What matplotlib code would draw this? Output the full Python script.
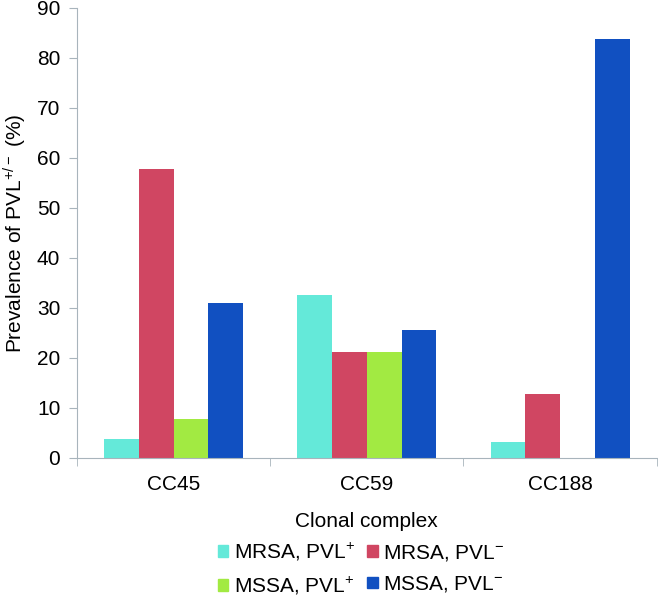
import matplotlib.pyplot as plt
from matplotlib.patches import Patch
import numpy as np

plt.rcParams['font.family'] = ['Liberation Sans', 'DejaVu Sans']
plt.rcParams['mathtext.default'] = 'regular'

# data
groups = ['CC45', 'CC59', 'CC188']
series = [r'MRSA, PVL$^{+}$', r'MRSA, PVL$^{-}$', r'MSSA, PVL$^{+}$', r'MSSA, PVL$^{-}$']
mrsa_pos = [3.8, 32.6, 3.2]
mrsa_neg = [57.8, 21.2, 12.8]
mssa_pos = [7.8, 21.2, 0]
mssa_neg = [31.0, 25.6, 83.8]
colors = ['#64E9D9', '#D04662', '#A2EA42', '#1150C1']

values = [mrsa_pos, mrsa_neg, mssa_pos, mssa_neg]

fig = plt.figure(figsize=(6.58, 6.05), dpi=100)
ax = fig.add_axes([0.117, 0.243, 0.881, 0.744])

x = np.arange(len(groups))
w = 0.18
for i, vals in enumerate(values):
    ax.bar(x + (i - 1.5) * w, vals, w, color=colors[i], label=series[i])

fs = 15
ax.set_xlim(-0.5, 2.5)
ax.set_ylim(0, 90)
ax.set_yticks(range(0, 91, 10))
ax.set_xticks(x)
ax.set_xticklabels(groups)
ax.set_xticks([-0.5, 0.5, 1.5, 2.5], minor=True)
ax.tick_params(axis='x', which='major', length=0, labelsize=fs, pad=12)
ax.tick_params(axis='x', which='minor', length=6, color='#A8B4BC', direction='out')
ax.tick_params(axis='y', length=6, color='#A8B4BC', labelsize=fs, pad=6)
for s in ['top', 'right']:
    ax.spines[s].set_visible(False)
for s in ['left', 'bottom']:
    ax.spines[s].set_color('#A8B4BC')

ax.set_ylabel(r'Prevalence of PVL$^{+/-}$ (%)', fontsize=fs, labelpad=6)
ax.set_xlabel('Clonal complex', fontsize=fs, labelpad=13)

handles = [Patch(color=c) for c in colors]
order = [0, 2, 1, 3]
fig.legend([handles[i] for i in order], [series[i] for i in order],
           ncol=2, loc='center', bbox_to_anchor=(0.549, 0.06), frameon=False,
           fontsize=fs, handlelength=0.5, handleheight=0.5, handletextpad=0.25,
           columnspacing=0.6, labelspacing=0.55)

fig.savefig('out.png', dpi=100)
